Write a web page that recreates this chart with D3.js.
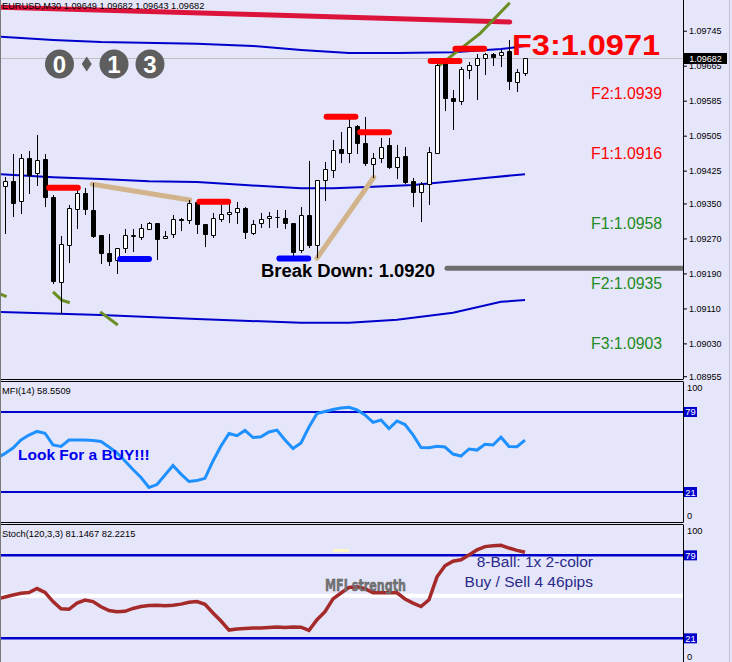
<!DOCTYPE html>
<html><head><meta charset="utf-8">
<script src="https://cdn.jsdelivr.net/npm/d3@7"></script>
<style>
html,body{margin:0;padding:0;background:#E6E6FA;}
svg{display:block;}
</style></head><body>
<svg id="c" width="732" height="662"></svg>
<script>
// ---------------- DATA ----------------
const symbolTitle = "EURUSD,M30  1.09649 1.09682 1.09643 1.09682";
const opens  = [1.09390,1.09401,1.09355,1.09454,1.09420,1.09452,1.09365,1.09170,1.09255,1.09337,
                1.09374,1.09335,1.09278,1.09237,1.09221,1.09248,1.09276,1.09273,1.09292,1.09305,
                1.09271,1.09280,1.09314,1.09312,1.09353,1.09303,1.09278,1.09314,1.09326,1.09330,
                1.09340,1.09282,1.09305,1.09317,1.09319,1.09317,1.09305,1.09243,1.09324,1.09255,
                1.09404,1.09426,1.09474,1.09465,1.09527,1.09488,1.09440,1.09454,1.09484,1.09433,
                1.09458,1.09401,1.09376,1.09394,1.09465,1.09671,1.09591,1.09584,1.09655,1.09667,
                1.09683,1.09692,1.09689,1.09699,1.09628,1.09649];
const highs  = [1.09410,1.09463,1.09463,1.09470,1.09507,1.09463,1.09369,1.09276,1.09346,1.09385,
                1.09385,1.09397,1.09278,1.09280,1.09248,1.09292,1.09292,1.09303,1.09308,1.09305,
                1.09287,1.09324,1.09317,1.09358,1.09358,1.09303,1.09328,1.09346,1.09353,1.09353,
                1.09342,1.09312,1.09328,1.09330,1.09335,1.09335,1.09305,1.09342,1.09447,1.09404,
                1.09445,1.09495,1.09513,1.09543,1.09529,1.09548,1.09465,1.09500,1.09500,1.09484,
                1.09479,1.09408,1.09399,1.09479,1.09683,1.09683,1.09609,1.09662,1.09673,1.09692,
                1.09694,1.09694,1.09701,1.09724,1.09657,1.09682];
const lows   = [1.09282,1.09321,1.09328,1.09374,1.09392,1.09344,1.09168,1.09099,1.09216,1.09294,
                1.09326,1.09273,1.09214,1.09209,1.09191,1.09239,1.09241,1.09269,1.09292,1.09223,
                1.09271,1.09273,1.09289,1.09305,1.09282,1.09253,1.09273,1.09310,1.09308,1.09305,
                1.09271,1.09280,1.09296,1.09296,1.09296,1.09294,1.09232,1.09239,1.09250,1.09227,
                1.09358,1.09410,1.09445,1.09445,1.09465,1.09438,1.09410,1.09445,1.09431,1.09408,
                1.09397,1.09344,1.09310,1.09349,1.09465,1.09564,1.09520,1.09577,1.09637,1.09589,
                1.09646,1.09667,1.09664,1.09612,1.09607,1.09643];
const closes = [1.09401,1.09351,1.09454,1.09415,1.09449,1.09365,1.09173,1.09257,1.09340,1.09374,
                1.09337,1.09276,1.09237,1.09218,1.09248,1.09278,1.09277,1.09294,1.09305,1.09269,
                1.09276,1.09314,1.09312,1.09351,1.09303,1.09280,1.09317,1.09326,1.09330,1.09340,
                1.09285,1.09303,1.09314,1.09321,1.09320,1.09305,1.09239,1.09324,1.09255,1.09404,
                1.09429,1.09472,1.09465,1.09525,1.09488,1.09442,1.09454,1.09479,1.09433,1.09456,
                1.09399,1.09376,1.09394,1.09468,1.09667,1.09591,1.09584,1.09657,1.09667,1.09683,
                1.09692,1.09685,1.09696,1.09630,1.09651,1.09682];

const priceTicks = [1.09745,1.09665,1.09585,1.09505,1.09425,1.09350,1.09270,1.09190,1.09110,1.09030,1.08955];

// overlay lines: [bar index, price]
const maUpper  = [[-1,1.09732],[6,1.09724],[12,1.09719],[24,1.09715],[31,1.09710],[37,1.09701],[43,1.09694],[49,1.09694],[56,1.09696],[62,1.09703],[65,1.09710]];
const maMiddle = [[-1,1.09417],[6,1.09410],[12,1.09406],[18,1.09401],[24,1.09399],[30,1.09392],[37,1.09385],[41,1.09385],[46,1.09388],[51,1.09392],[56,1.09401],[60,1.09408],[65,1.09417]];
const maLower  = [[-1,1.09102],[12,1.09095],[24,1.09086],[37,1.09077],[43,1.09077],[49,1.09084],[56,1.09100],[62,1.09125],[65,1.09129]];
const redTrend = [[-1,1.09799],[31,1.09782],[63.1,1.09765]];
const greenUp  = [[54.1,1.09663],[59.4,1.09739],[63.1,1.09809]];
const greenSegs = [
  [[-1,1.09146],[0.2,1.09137]],
  [[6.0,1.09148],[7.1,1.09129],[8.1,1.09123]],
  [[11.9,1.09102],[14.1,1.09072]]
];
const tanLines = [[[10.9,1.09394],[23.1,1.09358]], [[39,1.09225],[46.1,1.09410]]];
// [start index, end index, price]
const resistMarks = [[5.5,9.1,1.09386],[24.3,27.9,1.09354],[40.2,43.8,1.09548],[44.4,48.0,1.09513],[53.2,56.8,1.09676],[56.3,59.9,1.09704]];
const supportMarks = [[14.4,18.0,1.09223],[34.3,37.9,1.09224]];
const breakDown = 1.09202;
const breakLabel = "Break Down: 1.0920";
const fibRed = ["F3:1.0971","F2:1.0939","F1:1.0916"];
const fibGreen = ["F1:1.0958","F2:1.0935","F3:1.0903"];
const logoChars = ["0","1","3"];

// indicators (first value sits one bar before the first candle)
const indStart = -1;
const mfiTitle = "MFI(14) 58.5509";
const mfiValues = [45.6,48.9,52.9,58.7,62.3,64.9,63.6,55.1,54.0,58.7,
                   58.7,58.7,58.3,57.6,53.6,49.3,43.5,37.3,31.5,24.3,
                   26.4,33.3,40.2,34.0,28.6,29.3,30.9,43.5,54.3,63.4,
                   61.8,65.6,60.5,61.1,64.5,65.9,58.7,52.5,56.5,68.1,
                   77.9,79.4,80.8,81.9,82.4,80.5,76.8,71.5,73.2,67.0,
                   72.5,69.9,62.5,53.3,53.1,54.1,53.6,48.5,47.1,52.2,
                   51.4,55.6,55.1,60.7,54.0,53.8,58.55];
const stochTitle = "Stoch(120,3,3) 81.1467 82.2215";
const stochValues = [48.5,49.9,51.3,52.5,53.0,55.8,53.1,46.7,41.6,41.3,
                     45.7,47.8,46.7,43.1,40.4,39.6,39.9,41.9,43.2,44.0,
                     44.1,43.8,44.1,44.9,46.2,46.7,44.8,38.7,33.1,26.8,
                     27.5,27.8,28.2,28.2,28.5,28.9,28.5,28.9,28.8,26.6,
                     34.0,39.6,48.6,52.7,56.6,57.1,55.7,52.9,52.9,52.9,
                     52.8,48.5,45.6,43.2,48.0,64.0,71.7,74.9,75.9,79.3,
                     82.8,85.1,85.7,86.0,84.1,82.5,81.15];
const levels = [79,21];
const stochMid = 50;

// ---------------- DRAW ----------------
const FONT = "'Liberation Sans', Arial, sans-serif";
const svg = d3.select("#c");
const AX = 683;
const N = opens.length;
const x = d3.scaleLinear().domain([0, N-1]).range([5, 525]);
const yP = d3.scaleLinear().domain([1.08955, 1.09745]).range([376.2, 30.7]);
const yM = d3.scaleLinear().domain([0,100]).range([521, 383]);
const yS = d3.scaleLinear().domain([0,100]).range([668.4, 525.3]);
const crisp = v => Math.round(v) + 0.5;

svg.append("rect").attr("width",732).attr("height",662).attr("fill","#E6E6FA");
const defs = svg.append("defs");
defs.append("clipPath").attr("id","cm").append("rect").attr("x",1).attr("y",0).attr("width",AX-1).attr("height",379);
defs.append("clipPath").attr("id","ci").append("rect").attr("x",1).attr("y",382).attr("width",AX-1).attr("height",140);
defs.append("clipPath").attr("id","cs").append("rect").attr("x",1).attr("y",525).attr("width",AX-1).attr("height",137);

const main = svg.append("g").attr("clip-path","url(#cm)");
const lineP = d3.line().x(d=>x(d[0])).y(d=>yP(d[1]));

// current price line
const lastClose = closes[N-1];
main.append("line").attr("x1",0).attr("x2",AX).attr("y1",crisp(yP(lastClose))).attr("y2",crisp(yP(lastClose)))
  .attr("stroke","#C0C0C0").attr("stroke-width",1);

// crimson trend line
main.append("path").attr("d",lineP(redTrend)).attr("fill","none").attr("stroke","#DC143C")
  .attr("stroke-width",5).attr("stroke-linecap","round");

// moving average lines
[maUpper, maMiddle, maLower].forEach(a=>{
  main.append("path").attr("d",lineP(a)).attr("fill","none").attr("stroke","#0000CD").attr("stroke-width",2);
});

// green lines
[greenUp, ...greenSegs].forEach(a=>{
  main.append("path").attr("d",lineP(a)).attr("fill","none").attr("stroke","#6B8E23").attr("stroke-width",3);
});

// tan lines
tanLines.forEach(a=>{
  main.append("path").attr("d",lineP(a)).attr("fill","none").attr("stroke","#D2B48C")
    .attr("stroke-width",5).attr("stroke-linecap","round");
});

// candles
const cg = main.append("g");
d3.range(N).forEach(i=>{
  const cx = Math.round(x(i));
  const o = opens[i], c = closes[i], h = highs[i], l = lows[i];
  cg.append("line").attr("x1",cx+0.5).attr("x2",cx+0.5)
    .attr("y1",Math.round(yP(h))).attr("y2",Math.round(yP(l))+1)
    .attr("stroke","#000").attr("stroke-width",1);
  const top = crisp(yP(Math.max(o,c))), bot = crisp(yP(Math.min(o,c)));
  const x0 = cx-1.5, x1 = cx+2.5;
  cg.append("path").attr("d",`M${x0},${top}H${x1}V${bot}H${x0}Z`)
    .attr("fill", c >= o ? "#FFFFFF" : "#000000").attr("stroke","#000").attr("stroke-width",1);
});

// markers
resistMarks.forEach(m=>{
  main.append("line").attr("x1",x(m[0])).attr("x2",x(m[1])).attr("y1",yP(m[2])).attr("y2",yP(m[2]))
    .attr("stroke","#FF0000").attr("stroke-width",6).attr("stroke-linecap","round");
});
supportMarks.forEach(m=>{
  main.append("line").attr("x1",x(m[0])).attr("x2",x(m[1])).attr("y1",yP(m[2])).attr("y2",yP(m[2]))
    .attr("stroke","#0000FF").attr("stroke-width",6).attr("stroke-linecap","round");
});

// break down line
main.append("line").attr("x1",447).attr("x2",AX+3).attr("y1",yP(breakDown)).attr("y2",yP(breakDown))
  .attr("stroke","#6E6E6E").attr("stroke-width",5).attr("stroke-linecap","round");

// texts in main
svg.append("text").attr("x",2).attr("y",8.5).attr("font-family",FONT).attr("font-size",9.2)
  .attr("fill","#000").text(symbolTitle);

svg.append("text").attr("x",261).attr("y",276.7).attr("font-family",FONT).attr("font-size",17.5)
  .attr("font-weight","bold").attr("fill","#000").attr("textLength",174).attr("lengthAdjust","spacingAndGlyphs")
  .text(breakLabel);

svg.append("text").attr("x",512).attr("y",55).attr("font-family",FONT).attr("font-size",29)
  .attr("font-weight","bold").attr("fill","#FF0000").attr("textLength",148).attr("lengthAdjust","spacingAndGlyphs")
  .text(fibRed[0]);
[[fibRed[1],99.3,"#FF0000"],[fibRed[2],159.4,"#FF0000"],[fibGreen[0],229.3,"#228B22"],[fibGreen[1],289.3,"#228B22"],[fibGreen[2],349.3,"#228B22"]]
  .forEach(t=>{
    svg.append("text").attr("x",591).attr("y",t[1]).attr("font-family",FONT).attr("font-size",15.8)
      .attr("fill",t[2]).text(t[0]);
  });

// logo
const logo = svg.append("g");
[59.5,114,150].forEach((cx,k)=>{
  logo.append("circle").attr("cx",cx).attr("cy",64).attr("r",14.5).attr("fill","#5E5E5E");
  logo.append("text").attr("x",cx).attr("y",72.5).attr("text-anchor","middle").attr("font-family",FONT)
    .attr("font-weight","bold").attr("font-size",24).attr("fill","#FFFFFF").text(logoChars[k]);
});
logo.append("path").attr("d","M86.7,56.5L91.7,64L86.7,71.5L81.7,64Z").attr("fill","#5E5E5E");

// price axis
const axisP = d3.axisRight(yP).tickValues(priceTicks).tickSize(4).tickPadding(2).tickFormat(d3.format(".5f"));
const gA = svg.append("g").attr("transform",`translate(${AX},0)`).call(axisP);
gA.select(".domain").remove();
gA.selectAll("text").attr("font-size",9).attr("font-family",FONT).attr("fill","#000");
gA.selectAll("line").attr("stroke","#000");

// current price box
const yc = yP(lastClose);
svg.append("rect").attr("x",684).attr("y",Math.round(yc)-5).attr("width",43).attr("height",11).attr("fill","#000");
svg.append("text").attr("x",705.5).attr("y",Math.round(yc)+3.5).attr("text-anchor","middle").attr("font-family",FONT)
  .attr("font-size",9).attr("fill","#FFF").text(d3.format(".5f")(lastClose));

// panel borders
const border = svg.append("g").attr("stroke","#000").attr("stroke-width",1);
border.append("line").attr("x1",0).attr("x2",AX).attr("y1",379.5).attr("y2",379.5);
border.append("line").attr("x1",0).attr("x2",AX).attr("y1",381.5).attr("y2",381.5);
border.append("line").attr("x1",0).attr("x2",AX).attr("y1",522.5).attr("y2",522.5);
border.append("line").attr("x1",0).attr("x2",AX).attr("y1",524.5).attr("y2",524.5);
border.append("line").attr("x1",AX+0.5).attr("x2",AX+0.5).attr("y1",0).attr("y2",379.5);
border.append("line").attr("x1",AX+0.5).attr("x2",AX+0.5).attr("y1",381.5).attr("y2",522.5);
border.append("line").attr("x1",AX+0.5).attr("x2",AX+0.5).attr("y1",524.5).attr("y2",662);
svg.append("line").attr("x1",0.5).attr("x2",0.5).attr("y1",0).attr("y2",662).attr("stroke","#7A7A7A");
svg.append("line").attr("x1",729.5).attr("x2",729.5).attr("y1",0).attr("y2",662).attr("stroke","#C4C4D4");

// ---- MFI panel ----
const mfiG = svg.append("g").attr("clip-path","url(#ci)");
levels.forEach(v=>{
  mfiG.append("line").attr("x1",0).attr("x2",AX).attr("y1",yM(v)).attr("y2",yM(v)).attr("stroke","#0000CD").attr("stroke-width",2);
});
mfiG.append("path").attr("d",d3.line().x((d,k)=>x(indStart+k)).y(d=>yM(d))(mfiValues))
  .attr("fill","none").attr("stroke","#1E90FF").attr("stroke-width",3);
svg.append("text").attr("x",2).attr("y",393.5).attr("font-family",FONT).attr("font-size",9.3).attr("fill","#000").text(mfiTitle);
svg.append("text").attr("x",18).attr("y",460).attr("font-family",FONT).attr("font-size",15.5).attr("font-weight","bold")
  .attr("fill","#0000EE").text("Look For a BUY!!!");

// ---- Stoch panel ----
const stG = svg.append("g").attr("clip-path","url(#cs)");
levels.forEach(v=>{
  stG.append("line").attr("x1",0).attr("x2",AX).attr("y1",yS(v)).attr("y2",yS(v)).attr("stroke","#0000CD").attr("stroke-width",2.5);
});
stG.append("line").attr("x1",0).attr("x2",AX+2).attr("y1",yS(stochMid)-1).attr("y2",yS(stochMid)-1).attr("stroke","#FFFFFF").attr("stroke-width",4);
stG.append("rect").attr("x",333).attr("y",549).attr("width",16).attr("height",3).attr("fill","#FFF6C8");
stG.append("path").attr("d",d3.line().x((d,k)=>x(indStart+k)).y(d=>yS(d))(stochValues))
  .attr("fill","none").attr("stroke","#A52A2A").attr("stroke-width",3.5);
svg.append("text").attr("x",2).attr("y",537).attr("font-family",FONT).attr("font-size",9.3).attr("fill","#000").text(stochTitle);
svg.append("text").attr("x",325).attr("y",591).attr("font-family","'Liberation Sans Narrow','DejaVu Sans Condensed',sans-serif")
  .attr("font-size",16).attr("font-weight","bold").attr("fill","#747474").attr("stroke","#5A5A5A").attr("stroke-width",0.4)
  .attr("textLength",81).attr("lengthAdjust","spacingAndGlyphs").text("MFI strength");
svg.append("text").attr("x",593).attr("y",567.3).attr("text-anchor","end").attr("font-family",FONT).attr("font-size",15.5)
  .attr("fill","#2A2A8A").text("8-Ball: 1x 2-color");
svg.append("text").attr("x",593).attr("y",586.7).attr("text-anchor","end").attr("font-family",FONT).attr("font-size",15.5)
  .attr("fill","#2A2A8A").text("Buy / Sell 4 46pips");

// indicator scales (100 / 0 labels, level boxes)
function indAxis(scale, topY, botY){
  const ax = d3.axisRight(scale).tickValues([100,0]).tickSize(0).tickPadding(4);
  const g = svg.append("g").attr("transform",`translate(${AX},0)`).call(ax);
  g.select(".domain").remove();
  g.selectAll(".tick").attr("transform",d=>`translate(0,${d===100?topY:botY})`);
  g.selectAll("text").attr("font-size",9.3).attr("font-family",FONT).attr("fill","#000");
  levels.forEach(v=>{
    const yy = scale(v);
    svg.append("rect").attr("x",684).attr("y",yy-5).attr("width",13).attr("height",10).attr("fill","#0000CD");
    svg.append("text").attr("x",690.5).attr("y",yy+3.5).attr("text-anchor","middle").attr("font-family",FONT)
      .attr("font-size",9.3).attr("fill","#FFF").text(v);
  });
}
indAxis(yM, 388.3, 515.7);
indAxis(yS, 530.8, 657);
</script>
</body></html>
